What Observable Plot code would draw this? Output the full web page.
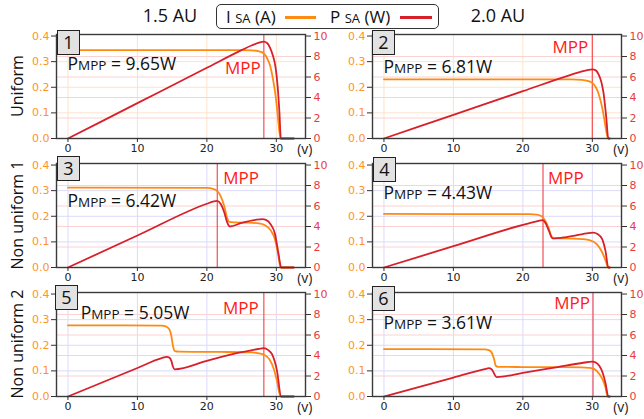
<!DOCTYPE html>
<html><head><meta charset="utf-8">
<script src="https://cdn.jsdelivr.net/npm/d3@7"></script>
<script src="https://cdn.jsdelivr.net/npm/@observablehq/plot@0.6"></script>
<style>
body{margin:0;background:#fff;}
#chart{position:relative;width:644px;height:419px;overflow:hidden;font-family:"Open Sans",sans-serif;color:#111;}
.abs{position:absolute;white-space:nowrap;}
.box{position:absolute;width:21px;height:23px;background:#e2e2e2;border:1.5px solid #222;font-size:18px;line-height:23px;text-align:center;}
.rowlab{position:absolute;font-size:16px;transform:translate(-50%,-50%) rotate(-90deg);white-space:nowrap;}
.small{font-size:13px;}
</style></head><body><div id="chart"></div>
<script>
// ---------- data ----------
const columnTitles = ["1.5 AU", "2.0 AU"];
const rowTitles = ["Uniform", "Non uniform 1", "Non uniform 2"];
const panelNumbers = [1, 2, 3, 4, 5, 6];
const pmppValues = ["9.65W", "6.81W", "6.42W", "4.43W", "5.05W", "3.61W"];
const mppVoltage = [28.2, 30.0, 21.5, 22.9, 28.2, 30.1];
const pmppTextVoltage = [0, 0, 0, 0, 1.9, 0];
const voltageTicks = [0, 10, 20, 30];
const currentTicks = [0, 0.1, 0.2, 0.3, 0.4];
const powerTicks = [0, 2, 4, 6, 8, 10];

// panel 1: 1.5 AU, uniform
const vI1 = [0, 25, 26.5, 27.5, 28.2, 28.7, 29.1, 29.5, 29.9, 30.2, 30.45, 30.6, 32.5];
const cur1 = [0.345, 0.345, 0.344, 0.340, 0.332, 0.312, 0.285, 0.235, 0.165, 0.09, 0.025, 0, 0];
const vP1 = [0, 10, 20, 25, 26.5, 27.5, 28.2, 28.7, 29.1, 29.5, 29.9, 30.2, 30.45, 30.65, 32.5];
const pow1 = [0, 3.45, 6.9, 8.62, 9.1, 9.35, 9.45, 9.3, 8.85, 8.1, 6.9, 5.0, 2.5, 0, 0];
// panel 2: 2.0 AU, uniform
const vI2 = [0, 27, 28.5, 29.3, 30.0, 30.5, 30.9, 31.3, 31.6, 32.0, 32.25, 32.5];
const cur2 = [0.231, 0.231, 0.229, 0.225, 0.217, 0.200, 0.175, 0.135, 0.095, 0.03, 0, 0];
const vP2 = [0, 10, 20, 27, 28.5, 29.3, 30.0, 30.5, 30.9, 31.3, 31.6, 32.0, 32.3, 32.5];
const pow2 = [0, 2.31, 4.62, 6.24, 6.55, 6.68, 6.75, 6.65, 6.25, 5.5, 4.5, 2.1, 0, 0];
// panel 3: 1.5 AU, non uniform 1
const vI3 = [0, 20, 21, 21.5, 22, 22.5, 22.9, 23.2, 24, 26, 27.5, 28.5, 29.2, 29.8, 30.3, 30.6, 32.5];
const cur3 = [0.312, 0.311, 0.306, 0.298, 0.278, 0.24, 0.195, 0.178, 0.176, 0.175, 0.172, 0.163, 0.145, 0.11, 0.045, 0, 0];
const vP3 = [0, 10, 20, 21, 21.5, 22, 22.5, 22.9, 23.3, 25, 27, 28, 28.5, 29.2, 29.8, 30.3, 30.7, 32.5];
const pow3 = [0, 3.12, 6.22, 6.45, 6.5, 6.2, 5.4, 4.45, 4.0, 4.35, 4.65, 4.72, 4.65, 4.2, 3.3, 1.4, 0, 0];
// panel 4: 2.0 AU, non uniform 1
const vI4 = [0, 21, 22, 22.7, 23.2, 23.7, 24.1, 24.5, 27, 28.5, 29.6, 30.6, 31.2, 31.6, 32.0, 32.25, 32.5];
const cur4 = [0.209, 0.208, 0.206, 0.2, 0.184, 0.155, 0.122, 0.114, 0.113, 0.111, 0.107, 0.092, 0.07, 0.048, 0.02, 0, 0];
const vP4 = [0, 10, 20, 22, 22.8, 23.3, 23.8, 24.25, 26, 28, 29.2, 30.1, 30.8, 31.4, 31.9, 32.3, 32.5];
const pow4 = [0, 2.08, 4.16, 4.5, 4.62, 4.3, 3.5, 2.85, 2.95, 3.18, 3.33, 3.4, 3.25, 2.8, 1.6, 0, 0];
// panel 5: 1.5 AU, non uniform 2
const vI5 = [0, 13.5, 14.2, 14.6, 14.9, 15.1, 15.4, 16, 22, 26.5, 27.5, 28.3, 29, 29.6, 30.1, 30.6, 32.5];
const cur5 = [0.278, 0.277, 0.272, 0.262, 0.235, 0.2, 0.177, 0.175, 0.174, 0.172, 0.168, 0.162, 0.145, 0.11, 0.06, 0, 0];
const vP5 = [0, 10, 13.5, 14.2, 14.6, 14.9, 15.1, 15.35, 20, 25, 27.5, 28.2, 28.8, 29.4, 30.1, 30.7, 32.5];
const pow5 = [0, 2.78, 3.74, 3.86, 3.8, 3.45, 2.95, 2.65, 3.48, 4.32, 4.65, 4.72, 4.55, 4.1, 2.5, 0, 0];
// panel 6: 2.0 AU, non uniform 2
const vI6 = [0, 14.5, 15.1, 15.5, 15.85, 16.1, 16.4, 20, 28.5, 29.5, 30.3, 31.0, 31.5, 31.9, 32.2, 32.5];
const cur6 = [0.185, 0.184, 0.181, 0.172, 0.146, 0.12, 0.116, 0.115, 0.114, 0.112, 0.107, 0.088, 0.065, 0.035, 0, 0];
const vP6 = [0, 10, 14.5, 15.1, 15.5, 15.85, 16.2, 20, 25, 28.5, 30, 30.5, 31, 31.5, 31.9, 32.3, 32.5];
const pow6 = [0, 1.85, 2.67, 2.76, 2.66, 2.25, 1.9, 2.3, 2.87, 3.27, 3.4, 3.32, 3.0, 2.3, 1.3, 0, 0];

// ---------- layout ----------
const colFrameLeft = [56, 372];
const rowFrameTop = [34, 163, 292];
const FW = 249, FH = 104;
const ML = 40, MR = 36, MT = 8, MB = 24;
const mppSide = ["end", "end", "start", "start", "end", "end"];
const mppDx = [-3, -4, 6, 5, -5, -3];
const mppDy = [39, 18, 20, 20, 21, 16];
const pmppDy = [36, 39, 44, 36, 27, 37];
const boxPos = [[57, 30], [372, 30], [57, 156], [373, 157], [55, 285], [372, 286]];

const ORANGE = "#ff8a12", RED = "#d8202a", AXRED = "#e63c3f", AXORANGE = "#ff9426";
const K = currentTicks[currentTicks.length - 1] / powerTicks[powerTicks.length - 1];

const zip = (vs, ys, key) => vs.map((v, j) => ({v, [key]: ys[j]}));
const panels = [
  {cur: zip(vI1, cur1, "i"), pow: zip(vP1, pow1, "p")},
  {cur: zip(vI2, cur2, "i"), pow: zip(vP2, pow2, "p")},
  {cur: zip(vI3, cur3, "i"), pow: zip(vP3, pow3, "p")},
  {cur: zip(vI4, cur4, "i"), pow: zip(vP4, pow4, "p")},
  {cur: zip(vI5, cur5, "i"), pow: zip(vP5, pow5, "p")},
  {cur: zip(vI6, cur6, "i"), pow: zip(vP6, pow6, "p")}
];

const chart = document.getElementById("chart");

panels.forEach((d, idx) => {
  const row = Math.floor(idx / 2), col = idx % 2;
  const gridColor = row === 0 ? "#fde3c9" : "#dadafc";
  const plot = Plot.plot({
    width: FW + ML + MR, height: FH + MT + MB,
    marginLeft: ML, marginRight: MR, marginTop: MT, marginBottom: MB,
    x: {domain: [-1.65, 34.2]},
    y: {domain: [0, 0.406]},
    style: {overflow: "visible", background: "transparent", fontFamily: "DejaVu Sans", fontSize: "11px"},
    marks: [
      Plot.gridX({ticks: voltageTicks, stroke: gridColor, strokeOpacity: 1}),
      Plot.gridY({ticks: currentTicks.slice(1, -1), stroke: gridColor, strokeOpacity: 1}),
      Plot.ruleY(powerTicks.slice(1, -1).map(p => p * K), {stroke: "#fbd2d2"}),
      Plot.ruleX([{v: mppVoltage[idx]}], {x: "v", stroke: "#f2343a", strokeWidth: 1.3, strokeOpacity: 0.8}),
      Plot.line(d.cur, {x: "v", y: "i", stroke: ORANGE, strokeWidth: 1.8, curve: "monotone-x"}),
      Plot.line(d.pow, {x: "v", y: r => r.p * K, stroke: RED, strokeWidth: 1.8, curve: "monotone-x"}),
      Plot.frame({stroke: "#3a3a3a", strokeWidth: 1.4}),
      Plot.axisX({ticks: voltageTicks, tickSize: 4, tickPadding: 2, label: null, stroke: "#333", fill: "#222"}),
      Plot.axisY({ticks: currentTicks, tickFormat: d3.format(".1f"), tickSize: 5, tickPadding: 2, label: null, stroke: "#333", fill: AXORANGE}),
      Plot.axisY({anchor: "right", ticks: powerTicks.map(p => p * K), tickFormat: v => Math.round(v / K), tickSize: 5, tickPadding: 3, label: null, stroke: "#333", fill: AXRED}),
      Plot.text([{v: mppVoltage[idx], t: "MPP"}], {x: "v", text: "t", frameAnchor: "top", lineAnchor: "bottom", textAnchor: mppSide[idx], dx: mppDx[idx], dy: mppDy[idx], fill: "#ff1a1a", fontSize: 17, fontFamily: "Open Sans"}),
      Plot.text([{v: 34.1, t: "(v)"}], {x: "v", text: "t", frameAnchor: "bottom", lineAnchor: "bottom", textAnchor: "middle", dy: 15, fill: "#222", fontSize: 14, fontFamily: "Open Sans"})
    ]
  });
  plot.style.position = "absolute";
  plot.style.left = (colFrameLeft[col] - ML) + "px";
  plot.style.top = (rowFrameTop[row] - MT) + "px";
  // P_MPP annotation placed through the plot's x scale
  const xs = plot.scale("x");
  const t = d3.select(plot).append("text")
    .attr("x", xs.apply(pmppTextVoltage[idx]))
    .attr("y", MT + pmppDy[idx])
    .attr("text-anchor", "start")
    .attr("font-family", "Open Sans").attr("font-size", 17.5).attr("fill", "#111");
  t.append("tspan").text("P");
  t.append("tspan").attr("font-size", 13.5).text("MPP");
  t.append("tspan").text(" = " + pmppValues[idx]);
  chart.appendChild(plot);

  const b = document.createElement("div");
  b.className = "box";
  b.style.left = boxPos[idx][0] + "px"; b.style.top = boxPos[idx][1] + "px";
  b.textContent = panelNumbers[idx];
  chart.appendChild(b);
});

// row labels
rowTitles.forEach((r, j) => {
  const e = document.createElement("div");
  e.className = "rowlab";
  e.style.left = "17px";
  e.style.top = (rowFrameTop[j] + FH / 2) + "px";
  e.textContent = r;
  chart.appendChild(e);
});

// column titles
const titleCenters = [170, 498];
columnTitles.forEach((c, j) => {
  const e = document.createElement("div");
  e.className = "abs";
  e.style.fontSize = "18px";
  e.style.left = titleCenters[j] + "px";
  e.style.top = "3px";
  e.style.transform = "translateX(-50%)";
  e.textContent = c;
  chart.appendChild(e);
});

// legend
const legend = document.createElement("div");
legend.className = "abs";
legend.style.cssText = "position:absolute;left:216px;top:4px;width:221px;height:23px;border:1.5px solid #333;border-radius:5px;font-size:17px;line-height:23px;background:#fff;";
legend.innerHTML =
  '<span style="position:absolute;left:9px;top:0">I <span class="small">SA</span> (A)</span>' +
  '<span style="position:absolute;left:68px;top:11px;width:31px;height:3px;background:' + ORANGE + '"></span>' +
  '<span style="position:absolute;left:113px;top:0">P <span class="small">SA</span> (W)</span>' +
  '<span style="position:absolute;left:183px;top:11px;width:32px;height:3px;background:' + RED + '"></span>';
chart.appendChild(legend);
</script></body></html>
